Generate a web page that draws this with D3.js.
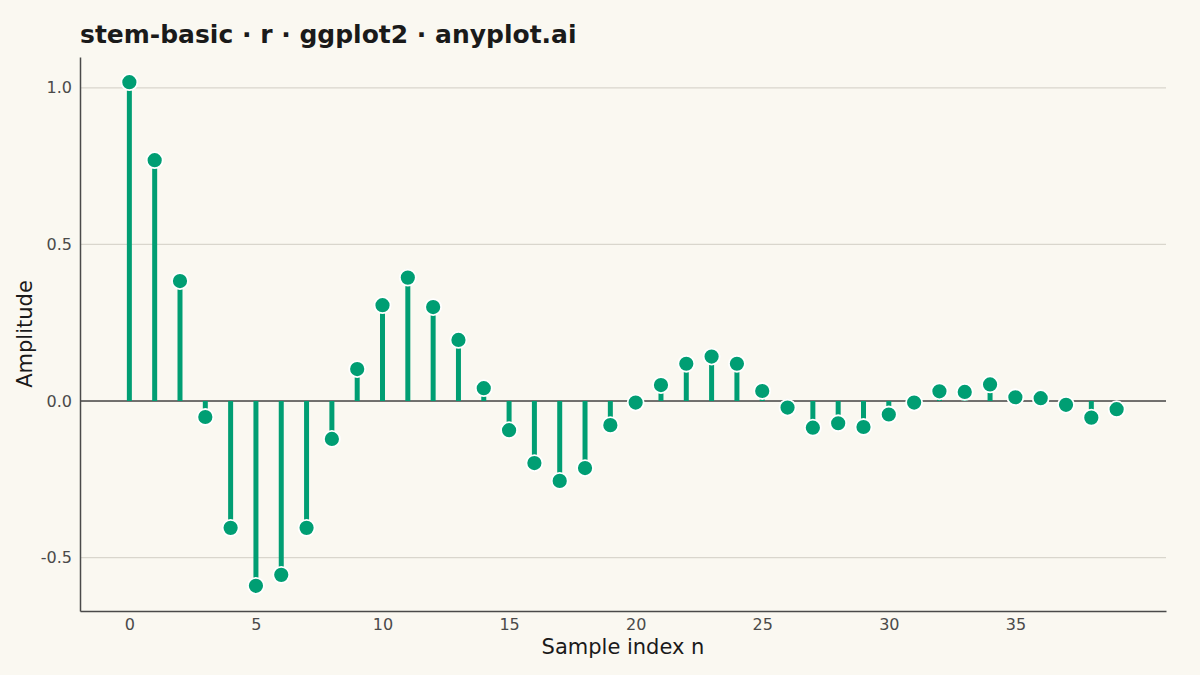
<!DOCTYPE html>
<html><head><meta charset="utf-8">
<script src="https://cdn.jsdelivr.net/npm/d3@7"></script>
<style>body{margin:0;background:#FAF8F1;}svg{display:block;font-family:"DejaVu Sans",sans-serif;}</style>
</head><body>
<svg id="chart" width="1200" height="675"></svg>
<script>
const sampleIndex = d3.range(0, 40);
const amplitude = [1.018, 0.769, 0.383, -0.051, -0.405, -0.590, -0.555, -0.405, -0.121, 0.102,
  0.306, 0.394, 0.300, 0.195, 0.041, -0.093, -0.198, -0.255, -0.214, -0.077,
  -0.005, 0.051, 0.119, 0.142, 0.119, 0.032, -0.021, -0.085, -0.071, -0.083,
  -0.043, -0.005, 0.031, 0.029, 0.053, 0.012, 0.009, -0.012, -0.053, -0.026];
const xTicks = [0, 5, 10, 15, 20, 25, 30, 35];
const yTicks = [-0.5, 0.0, 0.5, 1.0];

const W = 1200, H = 675;
const m = {left: 80, right: 34, top: 57, bottom: 64};
const svg = d3.select("#chart");
svg.append("rect").attr("width", W).attr("height", H).attr("fill", "#FAF8F1");

const xr = d3.extent(sampleIndex), xpad = (xr[1] - xr[0]) * 0.05;
const yr = d3.extent(amplitude), ypad = (yr[1] - yr[0]) * 0.05;
const x = d3.scaleLinear().domain([xr[0] - xpad, xr[1] + xpad]).range([m.left, W - m.right]);
const y = d3.scaleLinear().domain([yr[0] - ypad, yr[1] + ypad]).range([H - m.bottom, m.top]);

// gridlines
svg.append("g").selectAll("line").data(yTicks).join("line")
  .attr("x1", m.left).attr("x2", W - m.right)
  .attr("y1", d => y(d)).attr("y2", d => y(d))
  .attr("stroke", "#D9D6CD").attr("stroke-width", 1.2);

// zero baseline
svg.append("line").attr("x1", m.left).attr("x2", W - m.right)
  .attr("y1", y(0)).attr("y2", y(0)).attr("stroke", "#4a4a4a").attr("stroke-width", 1.5);

// axes
const fmt = d => d.toFixed(1);
const yAxis = svg.append("g").attr("transform", `translate(${m.left},0)`)
  .call(d3.axisLeft(y).tickValues(yTicks).tickFormat(fmt).tickSize(0).tickPadding(8));
const xAxis = svg.append("g").attr("transform", `translate(0,${H - m.bottom})`)
  .call(d3.axisBottom(x).tickValues(xTicks).tickFormat(d => String(d)).tickSize(0).tickPadding(8));
[yAxis, xAxis].forEach(a => {
  a.attr("font-family", "DejaVu Sans");
  a.select(".domain").attr("stroke", "#4a4a4a").attr("stroke-width", 1.5);
  a.selectAll("text").attr("fill", "#4a4a4a").attr("font-size", 16)
    .attr("font-family", "DejaVu Sans");
});

const data = sampleIndex.map((n, i) => ({n, v: amplitude[i]}));
const green = "#009E73";
// stems
svg.append("g").selectAll("line").data(data).join("line")
  .attr("x1", d => x(d.n)).attr("x2", d => x(d.n))
  .attr("y1", y(0)).attr("y2", d => y(d.v))
  .attr("stroke", green).attr("stroke-width", 5);
// markers
svg.append("g").selectAll("circle").data(data).join("circle")
  .attr("cx", d => x(d.n)).attr("cy", d => y(d.v)).attr("r", 8)
  .attr("fill", green).attr("stroke", "#FFFFFF").attr("stroke-width", 1.8);

// titles
svg.append("text").attr("x", m.left).attr("y", 43)
  .attr("font-size", 25).attr("font-weight", "bold").attr("fill", "#1a1a1a")
  .attr("font-family", "DejaVu Sans")
  .text("stem-basic · r · ggplot2 · anyplot.ai");
svg.append("text").attr("x", (m.left + W - m.right) / 2).attr("y", 654)
  .attr("text-anchor", "middle").attr("font-size", 21).attr("fill", "#1a1a1a")
  .attr("font-family", "DejaVu Sans")
  .text("Sample index n");
svg.append("text").attr("transform", `translate(32,${(m.top + H - m.bottom) / 2}) rotate(-90)`)
  .attr("text-anchor", "middle").attr("font-size", 21).attr("fill", "#1a1a1a")
  .attr("font-family", "DejaVu Sans")
  .text("Amplitude");
</script>
</body></html>
